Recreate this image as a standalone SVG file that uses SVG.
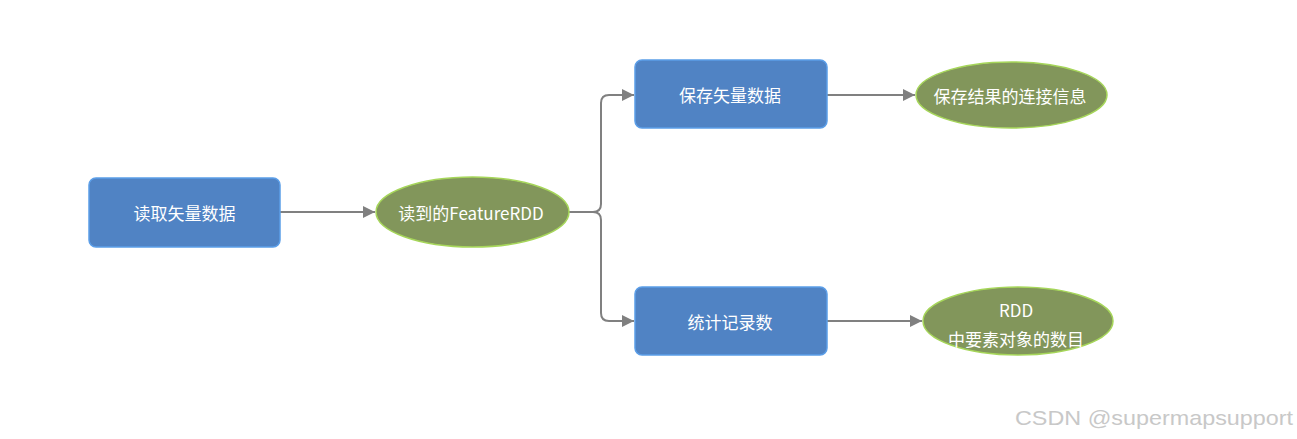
<svg xmlns="http://www.w3.org/2000/svg" width="1297" height="439" viewBox="0 0 1297 439">
<style>
.box{fill:#5083c4;stroke:#5b9ee8;stroke-width:1.5}
.ell{fill:#82965b;stroke:#a6d65a;stroke-width:1.5}
.t{fill:#ffffff;font-family:"Noto Sans CJK SC","Microsoft YaHei",sans-serif;font-size:17px;text-anchor:middle;dominant-baseline:central}
.c{fill:none;stroke:#808080;stroke-width:2}
.wm{fill:#c8c8c8;font-family:"Liberation Sans",Arial,sans-serif;font-size:21px}
</style>
<defs>
<marker id="ah" viewBox="0 0 10 10" refX="10" refY="5" markerWidth="6" markerHeight="6" markerUnits="strokeWidth" orient="auto">
<path d="M0,0 L10,5 L0,10 z" fill="#808080"/>
</marker>
</defs>
<rect width="1297" height="439" fill="#ffffff"/>
<g id="connectors">
<path class="c" d="M280,212 H375" marker-end="url(#ah)"/>
<path class="c" d="M569,212 H593 Q601,212 601,204 V103 Q601,95 609,95 H634" marker-end="url(#ah)"/>
<path class="c" d="M593,212 Q601,212 601,220 V313 Q601,321 609,321 H634" marker-end="url(#ah)"/>
<path class="c" d="M827,95 H915" marker-end="url(#ah)"/>
<path class="c" d="M827,321 H922" marker-end="url(#ah)"/>
</g>
<g id="n1">
<rect class="box" x="89" y="178" width="191" height="69" rx="7"/>
<text class="t" x="184.5" y="212.5">读取矢量数据</text>
</g>
<g id="n2">
<ellipse class="ell" cx="472.5" cy="212" rx="96.5" ry="35"/>
<text class="t" x="471" y="212.5">读到的FeatureRDD</text>
</g>
<g id="n3">
<rect class="box" x="635" y="60" width="192" height="68" rx="7"/>
<text class="t" x="730" y="94.5">保存矢量数据</text>
</g>
<g id="n4">
<ellipse class="ell" cx="1011.5" cy="95" rx="95.5" ry="33"/>
<text class="t" x="1010" y="95">保存结果的连接信息</text>
</g>
<g id="n5">
<rect class="box" x="635" y="287" width="192" height="68" rx="7"/>
<text class="t" x="730" y="321.5">统计记录数</text>
</g>
<g id="n6">
<ellipse class="ell" cx="1018" cy="321" rx="95" ry="34"/>
<text class="t" x="1016" y="309">RDD</text>
<text class="t" x="1016" y="338">中要素对象的数目</text>
</g>
<text class="wm" x="1015" y="425" textLength="278" lengthAdjust="spacingAndGlyphs">CSDN @supermapsupport</text>
</svg>
